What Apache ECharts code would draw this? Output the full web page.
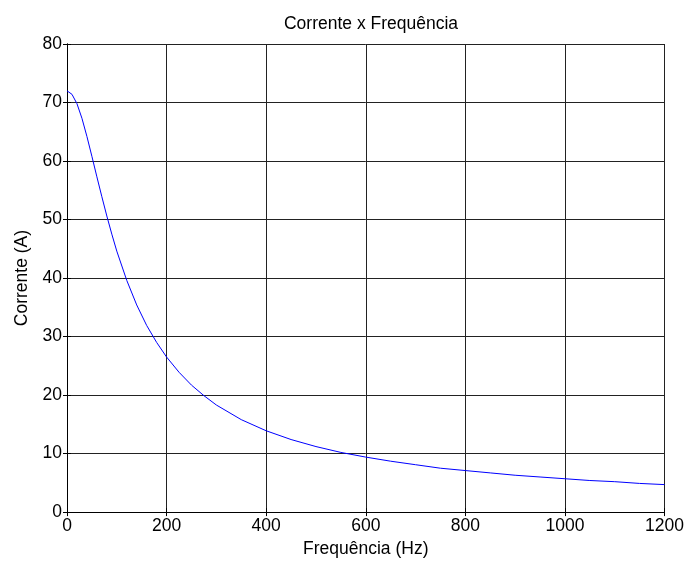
<!DOCTYPE html>
<html>
<head>
<meta charset="utf-8">
<script src="https://cdn.jsdelivr.net/npm/echarts@6/dist/echarts.min.js"></script>
<style>
  html, body { margin: 0; padding: 0; background: #fff; }
  #chart { width: 687px; height: 563px; }
</style>
</head>
<body>
<div id="chart"></div>
<script>
// frequência (Hz) e corrente (A)
var freq = [0, 10, 20, 30, 40, 50, 60, 70, 80, 90, 100, 120, 140, 160, 180, 200,
  225, 250, 275, 300, 350, 400, 450, 500, 550, 600, 650, 700, 750, 800, 850,
  900, 950, 1000, 1050, 1100, 1150, 1200];
var corrente = [72.0, 71.4, 69.8, 67.3, 64.2, 60.8, 57.3, 53.9, 50.6, 47.5, 44.6,
  39.6, 35.4, 31.9, 29.0, 26.5, 23.9, 21.7, 19.9, 18.3, 15.8, 13.9, 12.4, 11.2,
  10.2, 9.4, 8.7, 8.1, 7.5, 7.1, 6.7, 6.3, 6.0, 5.7, 5.4, 5.2, 4.9, 4.7];
var xTicks = [0, 200, 400, 600, 800, 1000, 1200];
var yTicks = [0, 10, 20, 30, 40, 50, 60, 70, 80];

var fonte = 'Liberation Sans, Arial, sans-serif';
var tamanho = 17.5;
var dados = freq.map(function(f, i) { return [f, corrente[i]]; });

var myChart = echarts.init(document.getElementById('chart'));

var eixoX = {
  type: 'value',
  min: xTicks[0],
  max: xTicks[xTicks.length - 1],
  interval: 200,
  axisLine: { show: true, lineStyle: { color: '#000', width: 1 } },
  axisTick: { show: true, inside: true, length: 4, lineStyle: { color: '#000' } },
  splitLine: { show: false },
  axisLabel: { show: false }
};
var eixoY = {
  type: 'value',
  min: yTicks[0],
  max: yTicks[yTicks.length - 1],
  interval: 10,
  axisLine: { show: true, lineStyle: { color: '#000', width: 1 } },
  axisTick: { show: true, inside: true, length: 4, lineStyle: { color: '#000' } },
  splitLine: { show: false },
  axisLabel: { show: false }
};

myChart.setOption({
  backgroundColor: '#fff',
  animation: false,
  title: {
    text: 'Corrente x Frequência',
    left: 366,
    top: 10,
    textAlign: 'center',
    textStyle: { fontFamily: fonte, fontSize: tamanho, fontWeight: 'normal', color: '#000' }
  },
  grid: { left: 67, right: 21, top: 44, bottom: 47 },
  xAxis: [
    Object.assign({}, eixoX, {
      position: 'bottom',
      name: 'Frequência (Hz)',
      nameLocation: 'middle',
      nameGap: 27,
      nameTextStyle: { fontFamily: fonte, fontSize: tamanho, color: '#000' },
      splitLine: { show: true, lineStyle: { color: '#222', width: 1 } },
      axisLabel: {
        show: true, margin: 5, fontFamily: fonte, fontSize: tamanho, color: '#000',
        formatter: function(v) { return String(v); }
      }
    }),
    Object.assign({}, eixoX, { position: 'top' })
  ],
  yAxis: [
    Object.assign({}, eixoY, {
      position: 'left',
      name: 'Corrente (A)',
      nameLocation: 'middle',
      nameGap: 35,
      nameTextStyle: { fontFamily: fonte, fontSize: tamanho, color: '#000' },
      splitLine: { show: true, lineStyle: { color: '#222', width: 1 } },
      axisLabel: {
        show: true, margin: 5, fontFamily: fonte, fontSize: tamanho, color: '#000',
        formatter: function(v) { return String(v); }
      }
    }),
    Object.assign({}, eixoY, { position: 'right' })
  ],
  series: [{
    type: 'line',
    data: dados,
    showSymbol: false,
    smooth: false,
    lineStyle: { color: '#0000ff', width: 1 },
    itemStyle: { color: '#0000ff' }
  }]
});
</script>
</body>
</html>
